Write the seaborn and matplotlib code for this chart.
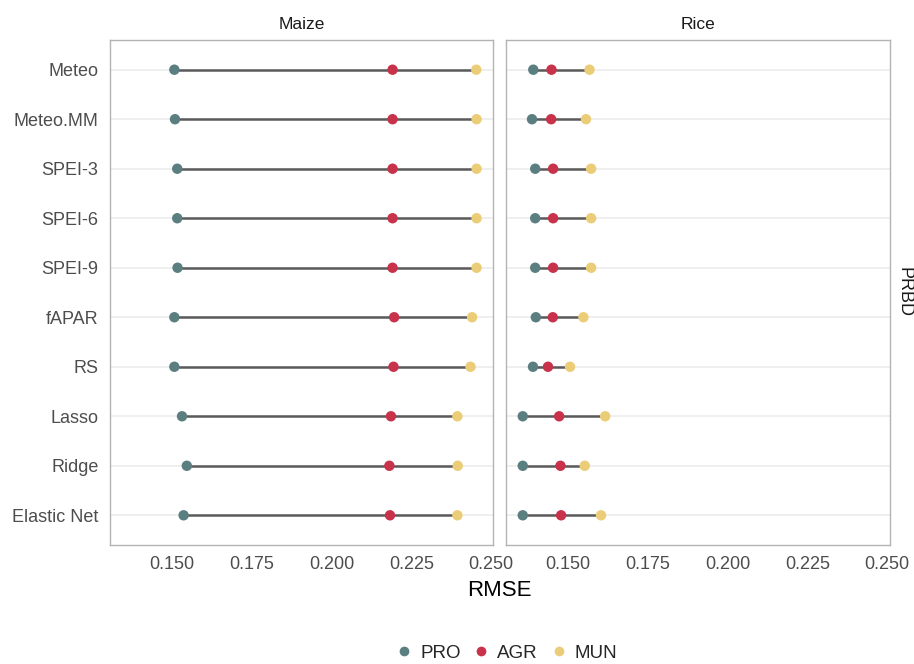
import matplotlib
matplotlib.use("Agg")
import matplotlib.pyplot as plt
from matplotlib.lines import Line2D
import seaborn as sns
import pandas as pd
import numpy as np

# Models (top to bottom)
models = ["Meteo", "Meteo.MM", "SPEI-3", "SPEI-6", "SPEI-9",
          "fAPAR", "RS", "Lasso", "Ridge", "Elastic Net"]
crops = ["Maize", "Rice"]
levels = ["PRO", "AGR", "MUN"]

# RMSE per model for each aggregation level
maize_pro = [0.1508, 0.1510, 0.1517, 0.1517, 0.1518, 0.1508, 0.1508, 0.1532, 0.1547, 0.1537]
maize_agr = [0.2191, 0.2191, 0.2191, 0.2191, 0.2191, 0.2196, 0.2194, 0.2186, 0.2181, 0.2183]
maize_mun = [0.2453, 0.2454, 0.2454, 0.2454, 0.2454, 0.2440, 0.2435, 0.2394, 0.2395, 0.2394]

rice_pro = [0.1392, 0.1388, 0.1398, 0.1398, 0.1398, 0.1400, 0.1391, 0.1359, 0.1359, 0.1359]
rice_agr = [0.1449, 0.1448, 0.1454, 0.1454, 0.1454, 0.1453, 0.1438, 0.1473, 0.1477, 0.1479]
rice_mun = [0.1568, 0.1557, 0.1573, 0.1573, 0.1573, 0.1549, 0.1507, 0.1617, 0.1553, 0.1604]

x_ticks = [0.150, 0.175, 0.200, 0.225, 0.250]
x_tick_labels = ["0.150", "0.175", "0.200", "0.225", "0.250"]

palette = {"PRO": "#5B7F81", "AGR": "#C8324B", "MUN": "#EBCD78"}

rows = []
for crop, series in (("Maize", (maize_pro, maize_agr, maize_mun)),
                     ("Rice", (rice_pro, rice_agr, rice_mun))):
    for lvl, vals in zip(levels, series):
        for m, v in zip(models, vals):
            rows.append({"crop": crop, "model": m, "level": lvl, "RMSE": v})
df = pd.DataFrame(rows)

sns.set_theme(style="white")
plt.rcParams["font.family"] = ["Liberation Sans", "DejaVu Sans"]

W, H = 914, 664
fig = plt.figure(figsize=(W / 100, H / 100), dpi=100)

def px_axes(left, top, right, bottom):
    return fig.add_axes([left / W, 1 - bottom / H, (right - left) / W, (bottom - top) / H])

ax_m = px_axes(109.5, 40, 493.5, 545)
ax_r = px_axes(505.5, 40, 889.5, 545)

for ax, crop in ((ax_m, "Maize"), (ax_r, "Rice")):
    sub = df[df["crop"] == crop]
    wide = sub.pivot(index="model", columns="level", values="RMSE").reindex(models)
    ypos = np.arange(len(models))
    for y in ypos:
        ax.axhline(y, color="#EBEBEB", lw=1.1, zorder=0)
    lo = wide[levels].min(axis=1).values
    hi = wide[levels].max(axis=1).values
    ax.hlines(ypos, lo, hi, color="#5A5A5A", lw=1.8, zorder=1)
    sns.stripplot(data=sub, x="RMSE", y="model", hue="level", order=models,
                  hue_order=levels, palette=palette, jitter=False, size=7.5,
                  linewidth=0, orient="h", legend=False, ax=ax, zorder=3)
    ax.set_xlim(0.1305, 0.2507)
    ax.set_ylim(len(models) - 0.4, -0.6)
    ax.set_xticks(x_ticks)
    ax.set_xticklabels(x_tick_labels)
    ax.tick_params(axis="both", length=0, labelsize=13, labelcolor="#4D4D4D")
    ax.tick_params(axis="x", pad=8)
    ax.tick_params(axis="y", pad=8)
    ax.set_xlabel("")
    ax.set_ylabel("")
    ax.grid(False)
    for s in ax.spines.values():
        s.set_visible(True)
        s.set_color("#B3B3B3")
        s.set_linewidth(1.0)
    ax.set_title(crop, fontsize=12.5, color="#1A1A1A", pad=8)

ax_r.set_yticklabels([])

fig.text(499 / W, 1 - 590 / H, "RMSE", ha="center", va="center",
         fontsize=16, color="black")
fig.text(904 / W, 1 - 292 / H, "PRBD", ha="center", va="center",
         rotation=270, fontsize=13, color="#1A1A1A")

handles = [Line2D([0], [0], marker="o", linestyle="", markersize=7,
                  markerfacecolor=palette[l], markeredgewidth=0, label=l)
           for l in levels]
fig.legend(handles=handles, loc="center", bbox_to_anchor=(506 / W, 1 - 653 / H),
           ncol=3, frameon=False, fontsize=13.5, handletextpad=0.35,
           columnspacing=0.6, handlelength=1.0)

fig.savefig("out.png", dpi=100, facecolor="white")
